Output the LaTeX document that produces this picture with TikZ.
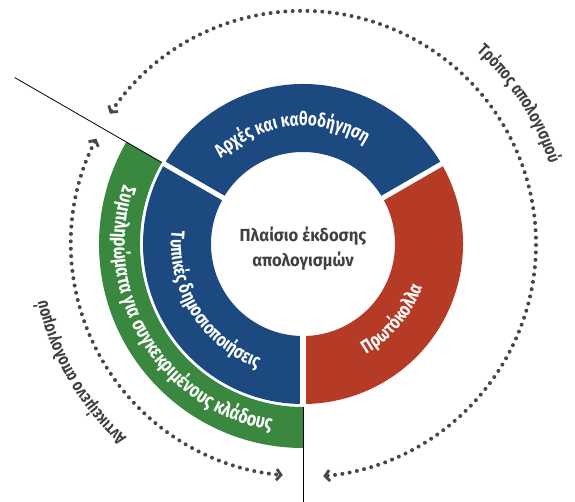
\documentclass[tikz,border=0pt]{standalone}
\usepackage{fontspec}
\setmainfont{Fira Sans}[FakeStretch=0.8]
\newfontfamily\centrefont{Fira Sans}[FakeStretch=0.95]
\usetikzlibrary{arrows.meta,decorations.text}
\definecolor{segblue}{HTML}{1C4980}
\definecolor{segred}{HTML}{B53B26}
\definecolor{seggreen}{HTML}{3A8740}
\definecolor{dotclr}{HTML}{474747}
\definecolor{labelclr}{HTML}{404040}
\tikzset{
  gapline/.style  = {draw=white, line width=5pt},
  cutline/.style  = {draw=black, line width=0.8pt},
  chevron/.tip    = {Straight Barb[length=4.5pt,width=11pt,line width=2.8pt]},
  dotarc/.style   = {draw=dotclr, line width=4pt, line cap=round,
                     dash pattern=on 0pt off 7.4pt, chevron-chevron},
  ringtext/.style = {decoration={text along path, text align=center,
                     text color=white, text={#1}}, postaction={decorate}},
  outertext/.style= {decoration={text along path, text align=center,
                     text color=labelclr, text={#1}}, postaction={decorate}},
}

\begin{document}
\begin{tikzpicture}[x=1pt, y=1pt]
\useasboundingbox (-303,-257) rectangle (272,244);

%% --- ring segments -----------------------------------------------------
\fill[segblue]  (30:92) arc[start angle=30, end angle=150, radius=92]
  -- (150:160) arc[start angle=150, end angle=30, radius=160] -- cycle;
\fill[segred]   (-90:92) arc[start angle=-90, end angle=30, radius=92]
  -- (30:160) arc[start angle=30, end angle=-90, radius=160] -- cycle;
\fill[segblue]  (150:92) arc[start angle=150, end angle=270, radius=92]
  -- (270:160) arc[start angle=270, end angle=150, radius=160] -- cycle;
\fill[seggreen] (150:163) arc[start angle=150, end angle=270, radius=163]
  -- (270:204) arc[start angle=270, end angle=150, radius=204] -- cycle;

\draw[gapline] (30:88)  -- (30:164);
\draw[gapline] (150:88) -- (150:161);
\draw[gapline, line width=6pt] (270:88) -- (270:161);

%% --- cut lines ---------------------------------------------------------
\draw[cutline] (150:163) -- (150:333);
\draw[cutline] (270:163) -- (270:262);

%% --- centre ------------------------------------------------------------
\node[font=\centrefont\bfseries\fontsize{17.5}{25}\selectfont, text=labelclr,
      align=center] (centre) at (0,-5) {Πλαίσιο έκδοσης\\απολογισμών};

%% --- segment labels ----------------------------------------------------
\path[ringtext={|\bfseries\fontsize{19}{19}\selectfont|Αρχές και καθοδήγηση}]
  (156:118) arc[start angle=156, end angle=36, radius=118];
\path[ringtext={|\bfseries\fontsize{19}{19}\selectfont|Πρωτόκολλα}]
  (-100:127) arc[start angle=-100, end angle=20, radius=127];
\path[ringtext={|\bfseries\fontsize{19}{19}\selectfont|Τυπικές δημοσιοποιήσεις}]
  (152:132) arc[start angle=152, end angle=272, radius=132];
\path[ringtext={|\bfseries\fontsize{20}{20}\selectfont|Συμπληρώματα για συγκεκριμένους κλάδους}]
  (121:189) arc[start angle=121, end angle=301, radius=189];

%% --- outer cycles ------------------------------------------------------
\draw[dotarc] (146:233) arc[start angle=146, end angle=-85, radius=233];
\draw[dotarc] (153:232) arc[start angle=153, end angle=265, radius=232];

\path[outertext={|\bfseries\fontsize{17.5}{17.5}\selectfont|Τρόπος απολογισμού}]
  (93:259) arc[start angle=93, end angle=-27, radius=259];
\path[outertext={|\bfseries\fontsize{17.5}{17.5}\selectfont|Αντικείμενο απολογισμού}]
  (270:262) arc[start angle=270, end angle=150, radius=262];

\end{tikzpicture}
\end{document}
